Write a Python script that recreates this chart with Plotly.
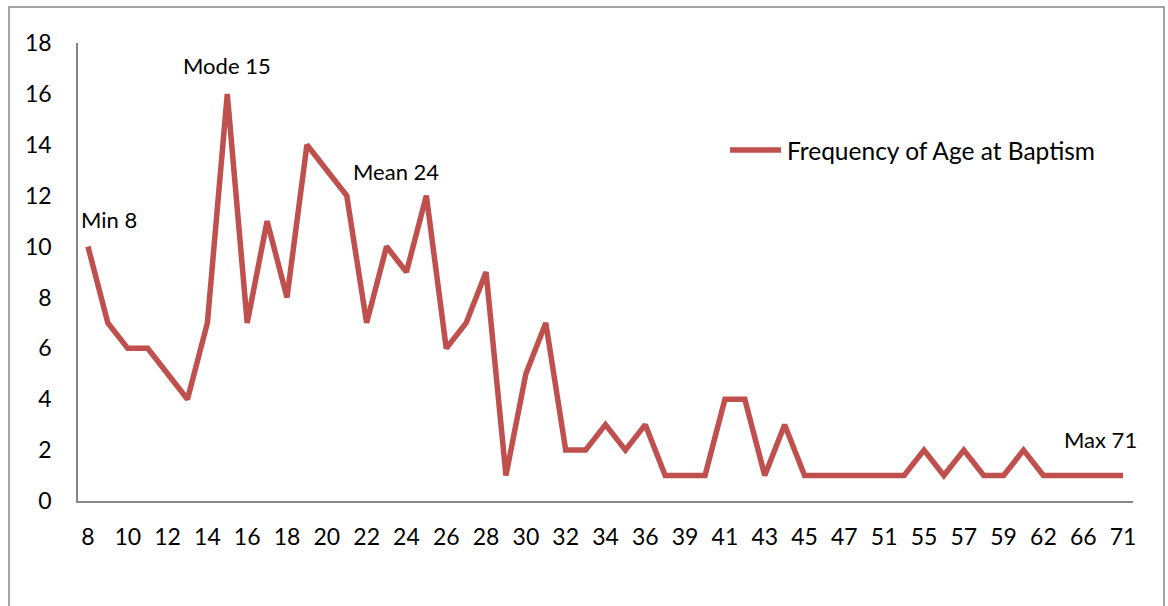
import plotly.graph_objects as go

# Ages recorded at baptism (only ages that occur) and how many people had each
ages = [8, 9, 10, 11, 12, 13, 14, 15, 16, 17, 18, 19, 20, 21, 22, 23, 24, 25, 26, 27,
        28, 29, 30, 31, 32, 33, 34, 35, 36, 38, 39, 40, 41, 42, 43, 44, 45, 46, 47, 49,
        51, 53, 55, 56, 57, 58, 59, 60, 62, 64, 66, 68, 71]
freq = [10, 7, 6, 6, 5, 4, 7, 16, 7, 11, 8, 14, 13, 12, 7, 10, 9, 12, 6, 7,
        9, 1, 5, 7, 2, 2, 3, 2, 3, 1, 1, 1, 4, 4, 1, 3, 1, 1, 1, 1,
        1, 1, 2, 1, 2, 1, 1, 2, 1, 1, 1, 1, 1]
y_ticks = [0, 2, 4, 6, 8, 10, 12, 14, 16, 18]
series_name = "Frequency of Age at Baptism"

cats = [str(a) for a in ages]

FONT = "Lato"
RED = "#C0504D"
AXIS = "#868686"

fig = go.Figure()
fig.add_trace(go.Scatter(
    x=cats, y=freq, mode="lines", name=series_name, showlegend=False,
    line=dict(color=RED, width=5.5),
))

# Summary labels placed over the series (anchored by category index)
notes = [
    ("Min 8", 8, 21, 27),
    ("Mode 15", 15, 0, 28),
    ("Mean 24", 24, -10, 101),
    ("Max 71", 71, -23, 36),
]
for text, age, dx, dy in notes:
    i = ages.index(age)
    fig.add_annotation(x=i, y=freq[i], text=text, showarrow=False,
                       xshift=dx, yshift=dy, font=dict(family=FONT, size=22, color="black"))

# Pixel helpers for the frame and key, relative to the plot area
L, R, T, B = 78, 1133, 43, 501
def px_x(p):
    return (p - L) / (R - L)
def px_y(p):
    return (B - p) / (B - T)

# Outer chart frame
fig.add_shape(type="rect", xref="paper", yref="paper",
              x0=px_x(9), x1=px_x(1164), y0=px_y(640), y1=px_y(7),
              line=dict(color=AXIS, width=1.5), layer="below")

# Series key
fig.add_shape(type="line", xref="paper", yref="paper",
              x0=px_x(730), x1=px_x(781), y0=px_y(150), y1=px_y(150),
              line=dict(color=RED, width=5.5))
fig.add_annotation(xref="paper", yref="paper", x=px_x(785), y=px_y(150),
                   xanchor="left", yanchor="middle", text=series_name, showarrow=False,
                   font=dict(family=FONT, size=24.5, color="black"))

fig.update_layout(
    width=1168, height=606,
    margin=dict(l=L, r=1168 - R, t=T, b=606 - B),
    paper_bgcolor="white", plot_bgcolor="white",
    font=dict(family=FONT, size=22, color="black"),
    showlegend=False,
)
fig.update_xaxes(
    type="category", range=[-0.5, len(cats) - 0.5],
    tickmode="array", tickvals=cats[::2], ticktext=cats[::2],
    showgrid=False, showline=True, linecolor=AXIS, linewidth=1.5,
    ticks="", ticklabelstandoff=15, tickfont=dict(family=FONT, size=23),
)
fig.update_yaxes(
    range=[0, 18], tickmode="array", tickvals=y_ticks,
    showgrid=False, showline=True, linecolor=AXIS, linewidth=1.5, zeroline=False,
    ticks="", ticklabelstandoff=20, tickfont=dict(family=FONT, size=23),
)

fig.write_html("out.html")
